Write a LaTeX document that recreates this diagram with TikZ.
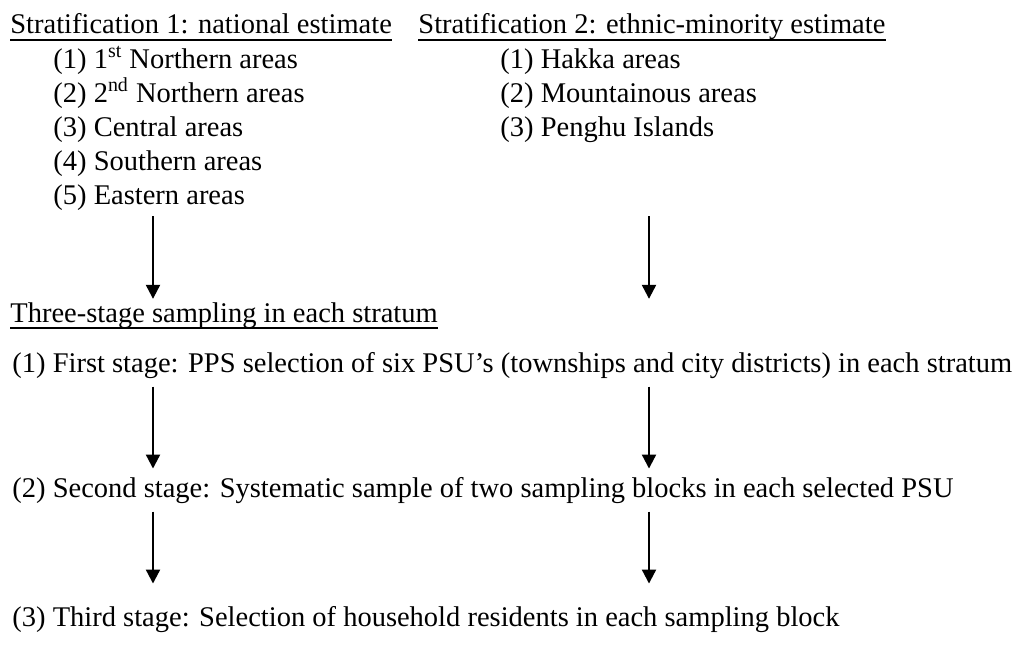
\documentclass[tikz,border=0pt]{standalone}
\usepackage{fontspec}
\setmainfont{Liberation Serif}
\usetikzlibrary{arrows.meta}

\begin{document}
\begin{tikzpicture}[x=0.5pt, y=-0.5pt, line cap=round, >={Triangle[width=7pt,length=7pt]},
    every node/.style={inner sep=0, anchor=base west, font=\fontsize{14.25}{17}\selectfont},
    uline/.style={line width=1pt, line cap=butt},
    flow/.style={->, line width=1.1pt, line cap=butt}]

    \useasboundingbox (0,0) rectangle (1017,648);

    % Define line pitch of the lists
    \def\dy{34}

    % Stratification headings
    \node (strat1) at (10,33) {Stratification 1: national estimate};
    \node (strat2) at (418,33) {Stratification 2: ethnic-minority estimate};
    \draw[uline] ([yshift=-3.5pt]strat1.base west) -- ([yshift=-3.5pt]strat1.base east);
    \draw[uline] ([yshift=-3.5pt]strat2.base west) -- ([yshift=-3.5pt]strat2.base east);

    % National strata
    \node (nat1) at (53,68) {(1) 1\textsuperscript{st} Northern areas};
    \node (nat2) at (53,68+\dy) {(2) 2\textsuperscript{nd} Northern areas};
    \node (nat3) at (53,68+2*\dy) {(3) Central areas};
    \node (nat4) at (53,68+3*\dy) {(4) Southern areas};
    \node (nat5) at (53,68+4*\dy) {(5) Eastern areas};

    % Ethnic-minority strata
    \node (eth1) at (500,68) {(1) Hakka areas};
    \node (eth2) at (500,68+\dy) {(2) Mountainous areas};
    \node (eth3) at (500,68+2*\dy) {(3) Penghu Islands};

    % Sampling stages
    \node (three) at (10,322) {Three-stage sampling in each stratum};
    \draw[uline] ([yshift=-3pt]three.base west) -- ([yshift=-3pt]three.base east);
    \node (stage1) at (12,372) {(1) First stage: PPS selection of six PSU’s (townships and city districts) in each stratum};
    \node (stage2) at (12,497) {(2) Second stage: Systematic sample of two sampling blocks in each selected PSU};
    \node (stage3) at (12,626) {(3) Third stage: Selection of household residents in each sampling block};

    % Arrow columns
    \coordinate (colL) at (153,0);
    \coordinate (colR) at (649,0);

    % Arrows
    \draw[flow] (nat5.south -| colL) ++(0,6) -- ([yshift=1.5pt]three.north -| colL);
    \draw[flow] (nat5.south -| colR) ++(0,6) -- ([yshift=1.5pt]three.north -| colR);
    \draw[flow] ([yshift=-4pt]stage1.south -| colL) -- ([yshift=4pt]stage2.north -| colL);
    \draw[flow] ([yshift=-4pt]stage1.south -| colR) -- ([yshift=4pt]stage2.north -| colR);
    \draw[flow] ([yshift=-4pt]stage2.south -| colL) -- ([yshift=11pt]stage3.north -| colL);
    \draw[flow] ([yshift=-4pt]stage2.south -| colR) -- ([yshift=11pt]stage3.north -| colR);

\end{tikzpicture}
\end{document}
